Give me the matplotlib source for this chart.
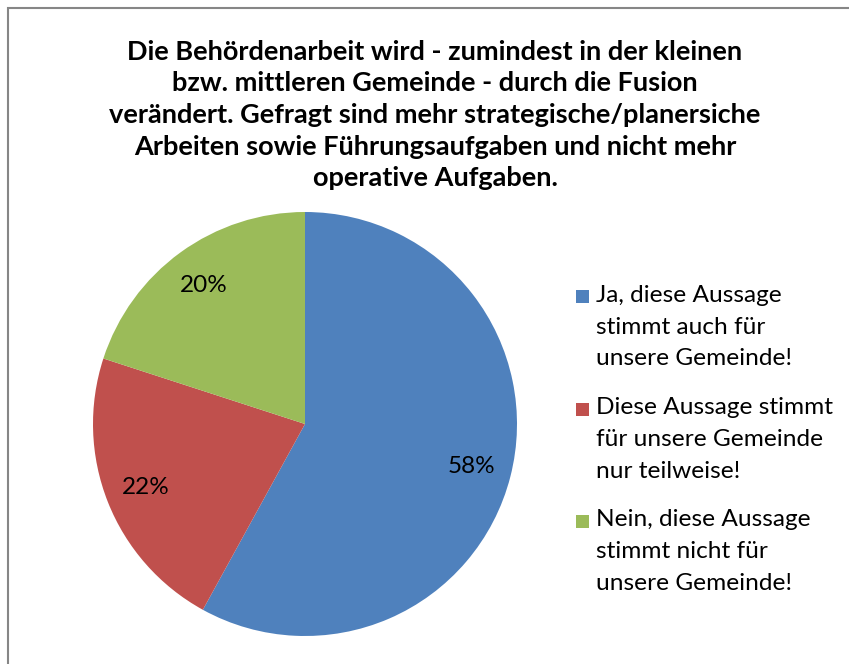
import matplotlib
matplotlib.use("Agg")
import matplotlib.pyplot as plt
from matplotlib.patches import Rectangle

W, H = 849, 664
DPI = 100

title = ("Die Behördenarbeit wird - zumindest in der kleinen\n"
         "bzw. mittleren Gemeinde - durch die Fusion\n"
         "verändert. Gefragt sind mehr strategische/planersiche\n"
         "Arbeiten sowie Führungsaufgaben und nicht mehr\n"
         "operative Aufgaben.")
labels = ["Ja, diese Aussage\nstimmt auch für\nunsere Gemeinde!",
          "Diese Aussage stimmt\nfür unsere Gemeinde\nnur teilweise!",
          "Nein, diese Aussage\nstimmt nicht für\nunsere Gemeinde!"]
values = [58, 22, 20]
colors = ["#4F81BD", "#C0504D", "#9BBB59"]

plt.rcParams['font.family'] = ['Lato', 'DejaVu Sans']

fig = plt.figure(figsize=(W / DPI, H / DPI), dpi=DPI)
fig.patch.set_facecolor("white")

def fx(x):
    return x / W

def fy(y):
    return 1 - y / H

# outer border
fig.add_artist(Rectangle((fx(8), fy(700)), fx(900), fy(8) - fy(700),
                         transform=fig.transFigure, fill=False,
                         edgecolor="#868686", linewidth=1.5))

# pie
cx, cy, r = 305, 424, 212
ax = fig.add_axes([fx(cx - r), fy(cy + r), fx(2 * r), fy(cy - r) - fy(cy + r)])
wedges, texts, autotexts = ax.pie(values, colors=colors, startangle=90, counterclock=False,
                                  autopct=lambda p: f"{p:.0f}%", pctdistance=0.81,
                                  radius=1, wedgeprops=dict(linewidth=0))
for t in autotexts:
    t.set_fontsize(17.5)
    t.set_color("black")
ax.set_xlim(-1, 1)
ax.set_ylim(-1, 1)
ax.set_aspect("equal")
ax.axis("off")

# title
fig.text(fx(435), fy(115), title, ha="center", va="center", fontsize=19.5,
         fontweight="bold", linespacing=1.38)

# legend
item_tops = [295, 408, 520]
for lab, col, ytop in zip(labels, colors, item_tops):
    fig.add_artist(Rectangle((fx(576), fy(ytop + 8)), fx(13), fy(ytop - 5) - fy(ytop + 8),
                             transform=fig.transFigure, facecolor=col, edgecolor="none"))
    for i, ln in enumerate(lab.split("\n")):
        fig.text(fx(596), fy(ytop + i * 32), ln, ha="left", va="center", fontsize=17.6)

fig.savefig("out.png", dpi=DPI)
